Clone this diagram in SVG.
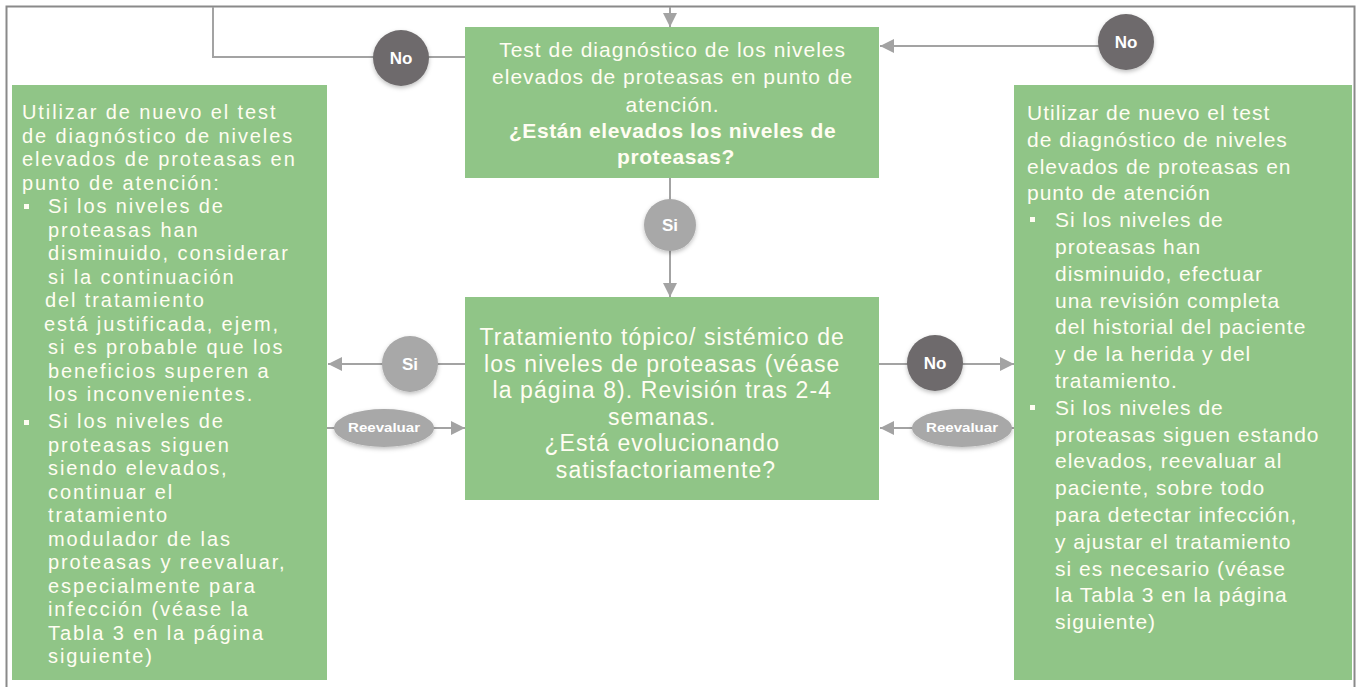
<svg xmlns="http://www.w3.org/2000/svg" width="1360" height="687" viewBox="0 0 1360 687">
<defs>
<style>
.box{fill:#90c587;}
.t{font-family:"Liberation Sans",Arial,sans-serif;fill:#fffdf2;}
.tb{font-weight:bold;}
.ln{stroke:#a3a3a3;stroke-width:2;fill:none;}
.dark{fill:#6e6b6c;}
.light{fill:#a8a8a8;}
.lbl{font-family:"Liberation Sans",Arial,sans-serif;fill:#ffffff;font-weight:bold;font-size:17px;text-anchor:middle;}
.lbls{font-family:"Liberation Sans",Arial,sans-serif;fill:#ffffff;font-weight:bold;font-size:12px;text-anchor:middle;}
.bul{fill:#fffdf2;}
</style>
<marker id="ahb" viewBox="0 0 10 10" refX="10" refY="5" markerWidth="16" markerHeight="14" orient="auto" markerUnits="userSpaceOnUse">
<path d="M0,0 L10,5 L0,10 Z" fill="#a3a3a3"/>
</marker>
<filter id="sh" x="-30%" y="-30%" width="160%" height="170%">
<feDropShadow dx="0" dy="2" stdDeviation="2" flood-color="#000" flood-opacity="0.25"/>
</filter>
</defs>
<rect x="0" y="0" width="1360" height="687" fill="#ffffff"/>
<rect x="6.5" y="6.5" width="1348" height="700" fill="none" stroke="#8a8a8a" stroke-width="2"/>

<g id="connectors">
<path class="ln" d="M670,7 L670,27" marker-end="url(#ahb)"/>
<path class="ln" d="M213,7 L213,57 L465,57"/>
<path class="ln" d="M1100,46 L880,46" marker-end="url(#ahb)"/>
<path class="ln" d="M670,178 L670,200"/>
<path class="ln" d="M670,250 L670,297" marker-end="url(#ahb)"/>
<path class="ln" d="M465,364 L328,364" marker-end="url(#ahb)"/>
<path class="ln" d="M327,428 L465,428" marker-end="url(#ahb)"/>
<path class="ln" d="M879,364 L1014,364" marker-end="url(#ahb)"/>
<path class="ln" d="M1014,428 L880,428" marker-end="url(#ahb)"/>
</g>

<g id="label-no-top-left">
<circle class="dark" cx="401" cy="58" r="28" filter="url(#sh)"/>
<text class="lbl" x="401" y="64">No</text>
</g>
<g id="label-no-top-right">
<circle class="dark" cx="1126" cy="42" r="28" filter="url(#sh)"/>
<text class="lbl" x="1126" y="48">No</text>
</g>
<g id="label-si-top">
<circle class="light" cx="670" cy="225" r="26" filter="url(#sh)"/>
<text class="lbl" x="670" y="231">Si</text>
</g>
<g id="label-si-left">
<circle class="light" cx="410" cy="364" r="28" filter="url(#sh)"/>
<text class="lbl" x="410" y="370">Si</text>
</g>
<g id="label-no-right">
<circle class="dark" cx="935" cy="363" r="28" filter="url(#sh)"/>
<text class="lbl" x="935" y="369">No</text>
</g>
<g id="label-reevaluar-left">
<ellipse class="light" cx="384" cy="428" rx="50" ry="19" filter="url(#sh)"/>
<text class="lbls" x="384" y="432" textLength="72" lengthAdjust="spacingAndGlyphs">Reevaluar</text>
</g>
<g id="label-reevaluar-right">
<ellipse class="light" cx="962" cy="428" rx="50" ry="19" filter="url(#sh)"/>
<text class="lbls" x="962" y="432" textLength="72" lengthAdjust="spacingAndGlyphs">Reevaluar</text>
</g>

<g id="node-test">
<rect class="box" x="465" y="27" width="414" height="151"/>
<text class="t" text-anchor="middle" font-size="21" letter-spacing="1">
<tspan x="676" y="57">Test de diagnóstico de los niveles</tspan>
<tspan x="676" y="84">elevados de proteasas en punto de</tspan>
<tspan x="676" y="112">atención.</tspan>
<tspan x="676" y="138" class="tb" letter-spacing="0.6">¿Están elevados los niveles de</tspan>
<tspan x="676" y="164" class="tb" letter-spacing="0.6">proteasas?</tspan>
</text>
</g>

<g id="node-tratamiento">
<rect class="box" x="465" y="297" width="414" height="203"/>
<text class="t" text-anchor="middle" font-size="23" letter-spacing="1.1">
<tspan x="666" y="345">Tratamiento tópico/ sistémico de</tspan>
<tspan x="666" y="372">los niveles de proteasas (véase</tspan>
<tspan x="666" y="398">la página 8). Revisión tras 2-4</tspan>
<tspan x="666" y="425">semanas.</tspan>
<tspan x="666" y="451">¿Está evolucionando</tspan>
<tspan x="666" y="478">satisfactoriamente?</tspan>
</text>
</g>

<g id="node-left">
<rect class="box" x="12" y="85" width="315" height="595"/>
<rect class="bul" x="24" y="204" width="5" height="5"/>
<rect class="bul" x="24" y="420" width="5" height="5"/>
<text class="t" font-size="20" letter-spacing="1.9">
<tspan x="22" y="119">Utilizar de nuevo el test</tspan>
<tspan x="22" y="142.5">de diagnóstico de niveles</tspan>
<tspan x="22" y="166">elevados de proteasas en</tspan>
<tspan x="22" y="189.5">punto de atención:</tspan>
<tspan x="48" y="213">Si los niveles de</tspan>
<tspan x="48" y="236.5">proteasas han</tspan>
<tspan x="48" y="260">disminuido, considerar</tspan>
<tspan x="48" y="283.5">si la continuación</tspan>
<tspan x="45" y="307">del tratamiento</tspan>
<tspan x="44" y="330.5">está justificada, ejem,</tspan>
<tspan x="48" y="354">si es probable que los</tspan>
<tspan x="48" y="377.5">beneficios superen a</tspan>
<tspan x="48" y="401">los inconvenientes.</tspan>
<tspan x="48" y="428">Si los niveles de</tspan>
<tspan x="48" y="451.5">proteasas siguen</tspan>
<tspan x="48" y="475">siendo elevados,</tspan>
<tspan x="48" y="498.5">continuar el</tspan>
<tspan x="48" y="522">tratamiento</tspan>
<tspan x="48" y="545.5">modulador de las</tspan>
<tspan x="48" y="569">proteasas y reevaluar,</tspan>
<tspan x="48" y="592.5">especialmente para</tspan>
<tspan x="48" y="616">infección (véase la</tspan>
<tspan x="48" y="639.5">Tabla 3 en la página</tspan>
<tspan x="48" y="663">siguiente)</tspan>
</text>
</g>

<g id="node-right">
<rect class="box" x="1014" y="85" width="338" height="595"/>
<rect class="bul" x="1030" y="217" width="5" height="5"/>
<rect class="bul" x="1030" y="405" width="5" height="5"/>
<text class="t" font-size="21" letter-spacing="1">
<tspan x="1027" y="120">Utilizar de nuevo el test</tspan>
<tspan x="1027" y="147">de diagnóstico de niveles</tspan>
<tspan x="1027" y="174">elevados de proteasas en</tspan>
<tspan x="1027" y="200">punto de atención</tspan>
<tspan x="1055" y="227">Si los niveles de</tspan>
<tspan x="1055" y="254">proteasas han</tspan>
<tspan x="1055" y="281">disminuido, efectuar</tspan>
<tspan x="1055" y="308">una revisión completa</tspan>
<tspan x="1055" y="334">del historial del paciente</tspan>
<tspan x="1055" y="361">y de la herida y del</tspan>
<tspan x="1055" y="388">tratamiento.</tspan>
<tspan x="1055" y="415">Si los niveles de</tspan>
<tspan x="1055" y="442">proteasas siguen estando</tspan>
<tspan x="1055" y="468">elevados, reevaluar al</tspan>
<tspan x="1055" y="495">paciente, sobre todo</tspan>
<tspan x="1055" y="522">para detectar infección,</tspan>
<tspan x="1055" y="549">y ajustar el tratamiento</tspan>
<tspan x="1055" y="576">si es necesario (véase</tspan>
<tspan x="1055" y="602">la Tabla 3 en la página</tspan>
<tspan x="1055" y="629">siguiente)</tspan>
</text>
</g>
</svg>
